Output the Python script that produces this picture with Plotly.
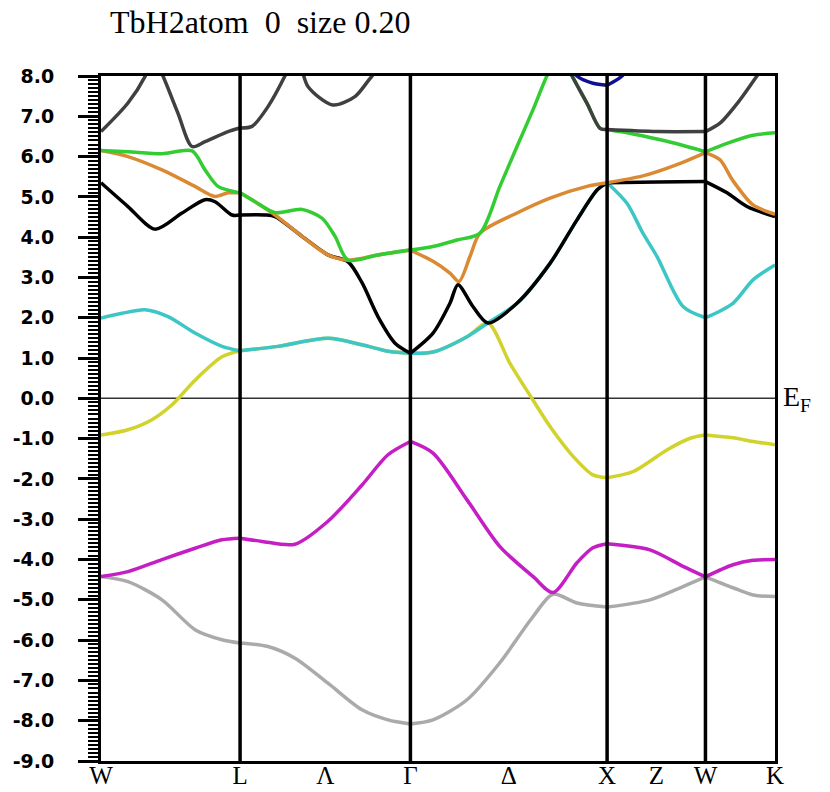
import plotly.graph_objects as go

# High-symmetry points (k-path distance, 2pi/a units)
K_SYM = [0.0, 0.7071, 1.5731, 2.5731, 3.0731, 3.4267]
TICK_K = [0.0, 0.7071, 1.1401, 1.5731, 2.0731, 2.5731, 2.8231, 3.0731, 3.4267]
TICK_TEXT = ["W", "L", "\u039b", "\u0393", "\u0394", "X", "Z", "W", "K"]
Y_TICKS = [8, 7, 6, 5, 4, 3, 2, 1, 0, -1, -2, -3, -4, -5, -6, -7, -8, -9]
Y_TEXT = ["8.0", "7.0", "6.0", "5.0", "4.0", "3.0", "2.0", "1.0", "0.0",
          "-1.0", "-2.0", "-3.0", "-4.0", "-5.0", "-6.0", "-7.0", "-8.0", "-9.0"]

# Band 1 (gray)
B1_K = [0, 0.137, 0.310, 0.478, 0.615, 0.7071, 0.849, 0.986, 1.154, 1.327, 1.459, 1.5731,
        1.688, 1.861, 2.028, 2.196, 2.298, 2.420, 2.5731, 2.791, 2.959, 3.0731, 3.213, 3.315, 3.4267]
B1_E = [-4.42, -4.55, -5.0, -5.74, -5.99, -6.07, -6.16, -6.45, -7.07, -7.73, -7.98, -8.08,
        -7.98, -7.48, -6.56, -5.42, -4.86, -5.08, -5.18, -5.0, -4.67, -4.43, -4.7, -4.88, -4.92]
# Band 2 (magenta)
B2_K = [0, 0.137, 0.310, 0.478, 0.615, 0.7071, 0.819, 0.986, 1.154, 1.327, 1.459, 1.5731,
        1.688, 1.861, 2.028, 2.196, 2.298, 2.420, 2.501, 2.5731, 2.791, 2.959, 3.0731, 3.213, 3.315, 3.4267]
B2_E = [-4.42, -4.3, -4.0, -3.72, -3.51, -3.47, -3.55, -3.62, -3.05, -2.15, -1.4, -1.07,
        -1.36, -2.52, -3.68, -4.42, -4.82, -4.08, -3.71, -3.61, -3.76, -4.17, -4.43, -4.13, -4.02, -4.0]
# Band 3 (yellow)
B3_K = [0, 0.137, 0.259, 0.361, 0.478, 0.615, 0.7071, 0.900, 1.154, 1.327, 1.459, 1.5731,
        1.688, 1.861, 1.967, 2.079, 2.196, 2.283, 2.400, 2.501, 2.5731, 2.705, 2.877, 2.995, 3.0731,
        3.213, 3.315, 3.4267]
B3_E = [-0.91, -0.78, -0.53, -0.16, 0.45, 1.03, 1.18, 1.29, 1.49, 1.33, 1.17, 1.12,
        1.15, 1.53, 1.87, 0.87, -0.04, -0.7, -1.44, -1.9, -1.97, -1.82, -1.28, -0.99, -0.91,
        -0.98, -1.07, -1.15]
# Band 4 (cyan)
B4_K = [0, 0.107, 0.224, 0.341, 0.478, 0.615, 0.7071, 0.900, 1.154, 1.327, 1.459, 1.5731,
        1.688, 1.861, 1.967, 2.115, 2.283, 2.420, 2.522, 2.5731, 2.674, 2.755, 2.827, 2.959, 3.0731,
        3.213, 3.315, 3.4267]
B4_E = [1.99, 2.11, 2.2, 2.03, 1.62, 1.29, 1.18, 1.29, 1.49, 1.33, 1.17, 1.12,
        1.15, 1.53, 1.87, 2.36, 3.35, 4.43, 5.17, 5.35, 4.84, 4.1, 3.52, 2.28, 2.0,
        2.36, 2.94, 3.31]
# Band 5 (black)
B5_K = [0, 0.137, 0.275, 0.412, 0.529, 0.580, 0.666, 0.7071, 0.834, 0.885, 1.022, 1.154, 1.256,
        1.327, 1.408, 1.495, 1.5731, 1.688, 1.774, 1.815, 1.891, 1.967, 2.115, 2.283, 2.420, 2.522,
        2.5731, 2.827, 3.0731, 3.183, 3.284, 3.4267]
B5_E = [5.35, 4.76, 4.2, 4.6, 4.93, 4.88, 4.55, 4.55, 4.55, 4.51, 4.02, 3.56, 3.39,
        2.87, 2.03, 1.37, 1.12, 1.62, 2.36, 2.82, 2.28, 1.87, 2.36, 3.35, 4.43, 5.17,
        5.35, 5.37, 5.38, 5.1, 4.76, 4.51]
# Band 6 (orange)
B6_K = [0, 0.137, 0.310, 0.478, 0.580, 0.646, 0.7071, 0.783, 0.885, 1.022, 1.154, 1.256, 1.408,
        1.5731, 1.688, 1.774, 1.820, 1.876, 1.927, 2.115, 2.283, 2.471, 2.5731, 2.755, 2.928, 3.0731,
        3.147, 3.213, 3.315, 3.4267]
B6_E = [6.15, 6.0, 5.67, 5.26, 5.01, 5.1, 5.1, 4.88, 4.55, 4.02, 3.56, 3.43, 3.56,
        3.68, 3.4, 3.11, 2.9, 3.52, 4.1, 4.6, 4.97, 5.26, 5.35, 5.52, 5.8, 6.1,
        5.92, 5.4, 4.8, 4.57]
# Band 7 (green)
B7_K = [0, 0.137, 0.310, 0.463, 0.529, 0.595, 0.7071, 0.783, 0.885, 1.022, 1.124, 1.190, 1.256,
        1.408, 1.5731, 1.688, 1.810, 1.927, 2.028, 2.115, 2.196, 2.267, 2.334, 2.395, 2.471, 2.537,
        2.5731, 2.705, 2.877, 3.0731, 3.183, 3.315, 3.4267]
B7_E = [6.15, 6.12, 6.07, 6.14, 5.67, 5.26, 5.1, 4.88, 4.61, 4.69, 4.47, 4.02, 3.43,
        3.56, 3.68, 3.77, 3.93, 4.1, 5.26, 6.25, 7.16, 8.0, 8.6, 8.0, 7.32, 6.7,
        6.67, 6.56, 6.38, 6.12, 6.33, 6.53, 6.59]
# Band 8 (dark gray)
B8_K = [0, 0.137, 0.224, 0.264, 0.315, 0.391, 0.463, 0.529, 0.646, 0.7071, 0.768, 0.849, 0.935,
        0.991, 1.052, 1.179, 1.291, 1.378, 1.5731, 1.861, 2.196, 2.334, 2.395, 2.471, 2.537, 2.5731,
        2.827, 3.0731, 3.147, 3.249, 3.335, 3.4267]
B8_E = [6.62, 7.33, 7.99, 8.5, 8.0, 7.08, 6.25, 6.37, 6.62, 6.71, 6.75, 7.24, 8.0,
        8.6, 7.74, 7.28, 7.49, 8.0, 9.0, 9.3, 9.1, 8.6, 8.0, 7.32, 6.7, 6.67,
        6.62, 6.62, 6.83, 7.41, 8.0, 8.6]
# Band 9 (blue)
B9_K = [2.350, 2.420, 2.501, 2.5731, 2.649, 2.740]
B9_E = [8.6, 8.0, 7.82, 7.77, 8.0, 8.6]

BANDS = [
    (B1_K, B1_E, "#aaaaaa"),
    (B2_K, B2_E, "#c41ec4"),
    (B3_K, B3_E, "#d2d22c"),
    (B4_K, B4_E, "#3cc6c6"),
    (B5_K, B5_E, "#000000"),
    (B6_K, B6_E, "#d98a32"),
    (B7_K, B7_E, "#33cc33"),
    (B8_K, B8_E, "#404040"),
    (B9_K, B9_E, "#101090"),
]

fig = go.Figure()
for ks, es, col in BANDS:
    for i in range(len(K_SYM) - 1):
        a, b = K_SYM[i], K_SYM[i + 1]
        sel = [(k, e) for k, e in zip(ks, es) if a - 1e-9 <= k <= b + 1e-9]
        if len(sel) < 2:
            continue
        fig.add_trace(go.Scatter(
            x=[p[0] for p in sel], y=[p[1] for p in sel], mode="lines",
            line=dict(color=col, width=3.5, shape="spline", smoothing=0.8),
            showlegend=False, hoverinfo="skip"))

# Fermi level
fig.add_shape(type="line", xref="paper", x0=0, x1=1, yref="y", y0=0, y1=0,
              line=dict(color="#333333", width=1.5), layer="below")
# vertical high-symmetry lines
for k in K_SYM[1:-1]:
    fig.add_shape(type="line", xref="x", x0=k, x1=k, yref="paper", y0=0, y1=1,
                  line=dict(color="black", width=3.5), layer="above")

fig.add_annotation(text="TbH2atom\u00a0\u00a00\u00a0\u00a0size\u00a00.20", xref="paper", yref="paper",
                   x=(108 - 101) / 685, y=1 + (76 - 22) / 685, xanchor="left", yanchor="middle",
                   showarrow=False, font=dict(family="Liberation Serif", size=32, color="black"))
fig.add_annotation(text="E<sub>F</sub>", xref="paper", yref="y", x=(781 - 101) / 674, y=0,
                   xanchor="left", yanchor="middle", showarrow=False,
                   font=dict(family="Liberation Serif", size=28, color="black"))

fig.update_layout(
    width=830, height=792, margin=dict(l=101, r=55, t=76, b=31),
    paper_bgcolor="white", plot_bgcolor="white",
    xaxis=dict(range=[0, K_SYM[-1]], showgrid=False, zeroline=False, showline=True, mirror=True,
               linecolor="black", linewidth=3, tickvals=TICK_K, ticktext=TICK_TEXT, ticks="",
               automargin=False, ticklabelstandoff=-10,
               tickfont=dict(family="Liberation Serif", size=25, color="black")),
    yaxis=dict(range=[-9, 8], showgrid=False, zeroline=False, showline=True, mirror=True,
               linecolor="black", linewidth=3, tickvals=Y_TICKS, ticktext=Y_TEXT,
               ticks="outside", ticklen=20, tickwidth=2.5, tickcolor="black",
               ticklabelstandoff=20, automargin=False,
               tickfont=dict(family="DejaVu Sans", size=19, color="black", weight="bold"),
               minor=dict(dtick=0.1, ticks="outside", ticklen=10, tickwidth=2, tickcolor="black",
                          showgrid=False)),
)
fig.write_html("out.html")
